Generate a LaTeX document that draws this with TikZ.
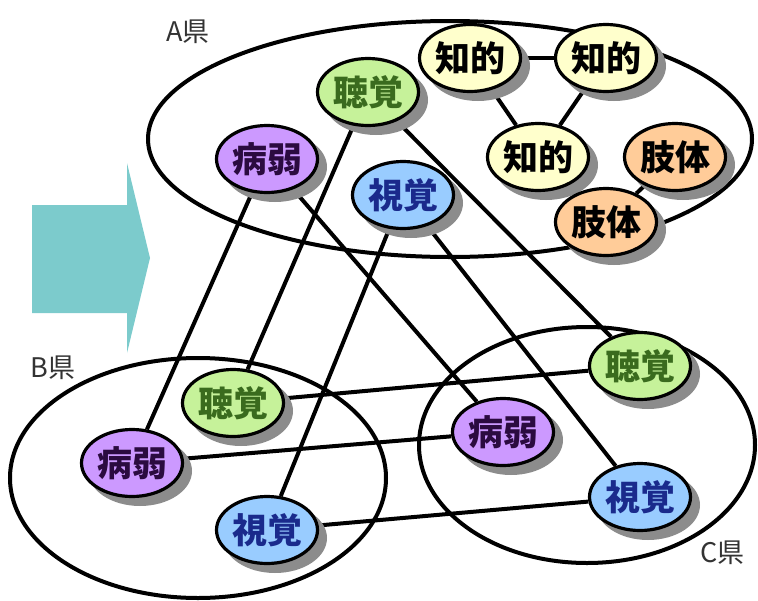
\documentclass[tikz,border=0pt]{standalone}
\usepackage{fontspec}
\newfontfamily\jp{Noto Sans CJK JP}
\usetikzlibrary{shapes.geometric}
\pgfdeclarelayer{background}
\pgfdeclarelayer{shadowlayer}
\pgfsetlayers{background,shadowlayer,main}
\definecolor{gfill}{HTML}{C6F29A}
\definecolor{gtext}{HTML}{3A6B1E}
\definecolor{pfill}{HTML}{CC99FF}
\definecolor{ptext}{HTML}{2B0B40}
\definecolor{bfill}{HTML}{99CCFF}
\definecolor{btext}{HTML}{1A2A8C}
\definecolor{yfill}{HTML}{FFFFCC}
\definecolor{ofill}{HTML}{FFCC99}
\definecolor{arrowcol}{HTML}{7CCBCC}
\definecolor{labcol}{HTML}{333333}
\definecolor{shadowcol}{HTML}{8C8C8C}
\tikzset{
  cat/.style={ellipse, draw, line width=3.2pt, minimum width=101pt, minimum height=67pt, inner sep=0pt,
    font=\jp\bfseries\fontsize{35}{35}\selectfont},
  hear/.style={cat, fill=gfill, text=gtext},
  sick/.style={cat, fill=pfill, text=ptext},
  see/.style={cat, fill=bfill, text=btext},
  intel/.style={cat, fill=yfill, text=black},
  body/.style={cat, fill=ofill, text=black},
  pref/.style={line width=4pt, draw=black},
  link/.style={line width=4pt, draw=black},
  shade/.style={fill=shadowcol},
  plabel/.style={font=\jp\fontsize{27}{27}\selectfont, text=labcol, inner sep=0pt}
}
\begin{document}
\begin{tikzpicture}[x=1pt,y=-1pt]
\useasboundingbox (0,0) rectangle (758,600);
% arrow
\fill[arrowcol] (32,205) -- (127,205) -- (127,163) -- (150,258) -- (127,353) -- (127,313) -- (32,313) -- cycle;
% prefecture ellipses
\begin{pgfonlayer}{background}
\draw[pref] (450,139) ellipse [x radius=302pt, y radius=118pt];
\draw[pref] (198,478) ellipse [x radius=188pt, y radius=120pt];
\draw[pref] (587,445) ellipse [x radius=168pt, y radius=118pt];
\end{pgfonlayer}
% labels
\node[plabel] (la) at (188,32) {A県};
\node[plabel] (lb) at (53,368) {B県};
\node[plabel, anchor=west] (lc) at (700,553) {C県};
% A nodes
\node[hear] (ah) at (368,92) {聴覚};
\node[sick] (as) at (267,159) {病弱};
\node[see] (av) at (403,195) {視覚};
\node[intel] (ai1) at (470,58) {知的};
\node[intel] (ai2) at (606,58) {知的};
\node[intel] (ai3) at (538,157) {知的};
\node[body] (ab1) at (675,157) {肢体};
\node[body] (ab2) at (606,222) {肢体};
% B nodes
\node[hear] (bh) at (233,403) {聴覚};
\node[sick] (bs) at (132,463) {病弱};
\node[see] (bv) at (267,530) {視覚};
% C nodes
\node[hear] (ch) at (640,366) {聴覚};
\node[sick] (cs) at (503,432) {病弱};
\node[see] (cv) at (640,497) {視覚};
% shadows
\begin{pgfonlayer}{shadowlayer}
\foreach \n in {ah,as,av,ai1,ai2,ai3,ab1,ab2,bh,bs,bv,ch,cs,cv}
  \fill[shade] ([shift={(8,8)}]\n.center) ellipse [x radius=52pt, y radius=35pt];
\end{pgfonlayer}
% links
\begin{pgfonlayer}{background}
\draw[link] (ai1) -- (ai2);
\draw[link] (ai1) -- (ai3);
\draw[link] (ai2) -- (ai3);
\draw[link] (ab1) -- (ab2);
\draw[link] (as) -- (bs);
\draw[link] (as) -- (cs);
\draw[link] (ah) -- (bh);
\draw[link] (ah) -- (ch);
\draw[link] (av) -- (bv);
\draw[link] (av) -- (cv);
\draw[link] (bh) -- (ch);
\draw[link] (bs) -- (cs);
\draw[link] (bv) -- (cv);
\end{pgfonlayer}
\end{tikzpicture}
\end{document}
